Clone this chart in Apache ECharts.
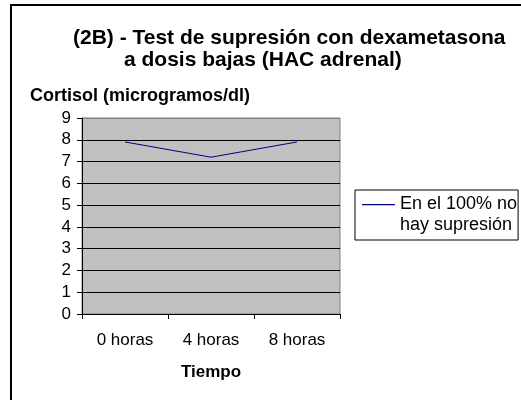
<!DOCTYPE html>
<html>
<head>
  <meta charset="utf-8">
  <script src="https://cdn.jsdelivr.net/npm/echarts@6/dist/echarts.min.js"></script>
  <style>
    html, body { margin: 0; padding: 0; background: #fff; }
  </style>
</head>
<body>
  <div id="main" style="width: 521px;height:400px;"></div>
  <script>
    // datos
    var horas = ['0 horas', '4 horas', '8 horas'];
    var cortisol = [7.9, 7.2, 7.9];
    var serieNombre = 'En el 100% no\nhay supresión';
    var tituloLineas = ['(2B) - Test de supresión con dexametasona', 'a dosis bajas (HAC adrenal)'];

    var fuente = 'Liberation Sans, Arial, sans-serif';
    var myChart = echarts.init(document.getElementById('main'));

    var option = {
      animation: false,
      textStyle: { fontFamily: fuente, color: '#000' },
      title: [{
        text: tituloLineas[0],
        left: 73, top: 28, padding: 0,
        textStyle: { fontFamily: fuente, fontSize: 21, fontWeight: 'bold', color: '#000' }
      }, {
        text: tituloLineas[1],
        left: 124, top: 50, padding: 0,
        textStyle: { fontFamily: fuente, fontSize: 21, fontWeight: 'bold', color: '#000' }
      }, {
        text: 'Cortisol (microgramos/dl)',
        left: 30, top: 87, padding: 0,
        textStyle: { fontFamily: fuente, fontSize: 18, fontWeight: 'bold', color: '#000' }
      }],
      graphic: [{
        type: 'rect',
        shape: { x: 11, y: 5, width: 600, height: 600 },
        style: { fill: 'none', stroke: '#000', lineWidth: 2 },
        silent: true
      }],
      legend: {
        left: 355, top: 190,
        orient: 'vertical',
        padding: [4, 1, 4, 7],
        borderColor: '#000', borderWidth: 1,
        itemWidth: 33, itemHeight: 22,
        icon: 'path://M0,0L33,0L33,1.2L0,1.2Z M0,22L0.01,22L0.01,22.01Z',
        textStyle: { fontFamily: fuente, fontSize: 18, lineHeight: 21, color: '#000' },
        data: [serieNombre]
      },
      grid: {
        left: 82, top: 118, width: 258, height: 196,
        show: true, backgroundColor: '#C0C0C0',
        borderColor: '#808080', borderWidth: 1
      },
      xAxis: {
        type: 'category',
        data: horas,
        boundaryGap: true,
        name: 'Tiempo',
        nameLocation: 'middle',
        nameGap: 50,
        nameTextStyle: { fontFamily: fuente, fontSize: 17, fontWeight: 'bold', color: '#000' },
        axisLine: { lineStyle: { color: '#000', width: 1 } },
        axisTick: { show: true, length: 5, lineStyle: { color: '#000' } },
        axisLabel: { fontFamily: fuente, fontSize: 17, color: '#000', margin: 18 }
      },
      yAxis: {
        type: 'value',
        min: 0, max: 9, interval: 1,
        axisLine: { show: true, lineStyle: { color: '#000', width: 1 } },
        axisTick: { show: true, length: 5, lineStyle: { color: '#000' } },
        axisLabel: { fontFamily: fuente, fontSize: 17, color: '#000', margin: 11 },
        splitLine: {
          lineStyle: {
            color: ['#000', '#000', '#000', '#000', '#000', '#000', '#000', '#000', '#000', '#808080'],
            width: 1
          }
        }
      },
      series: [{
        name: serieNombre,
        type: 'line',
        data: cortisol,
        symbol: 'none',
        lineStyle: { color: '#000080', width: 1 },
        itemStyle: { color: '#000080' }
      }]
    };

    myChart.setOption(option);
  </script>
</body>
</html>
